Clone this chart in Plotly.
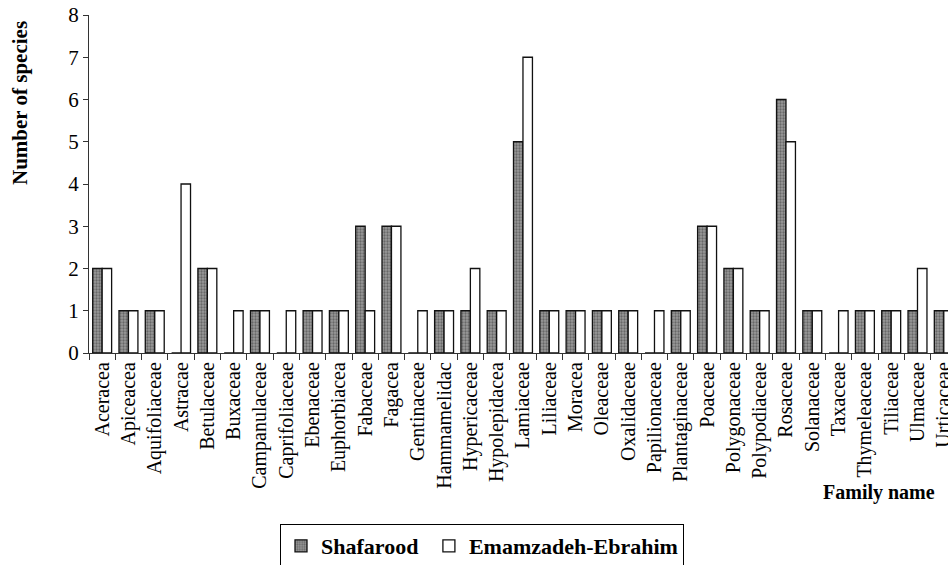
import plotly.graph_objects as go

families = ["Aceracea", "Apiceacea", "Aquifoliaceae", "Astracae", "Betulaceae", "Buxaceae",
            "Campanulaceae", "Caprifoliaceae", "Ebenaceae", "Euphorbiacea", "Fabaceae", "Fagacea",
            "Gentinaceae", "Hammamelidac", "Hypericaceae", "Hypolepidacea", "Lamiaceae", "Liliaceae",
            "Moracea", "Oleaceae", "Oxalidaceae", "Papilionaceae", "Plantaginaceae", "Poaceae",
            "Polygonaceae", "Polypodiaceae", "Rosaceae", "Solanaceae", "Taxaceae", "Thymeleaceae",
            "Tiliaceae", "Ulmaceae", "Urticaceae"]
shafarood = [2, 1, 1, 0, 2, 0, 1, 0, 1, 1, 3, 3, 0, 1, 1, 1, 5, 1, 1, 1, 1, 0, 1, 3, 2, 1, 6, 1, 0, 1, 1, 1, 1]
emamzadeh = [2, 1, 1, 4, 2, 1, 1, 1, 1, 1, 1, 3, 1, 1, 2, 1, 7, 1, 1, 1, 1, 1, 1, 3, 2, 1, 5, 1, 1, 1, 1, 2, 1]
y_ticks = [0, 1, 2, 3, 4, 5, 6, 7, 8]

FONT = "Liberation Serif"

fig = go.Figure()
fig.add_trace(go.Bar(
    x=families, y=shafarood, name="<b>Shafarood</b>\u00a0",
    marker=dict(color="#9a9a9a", line=dict(color="#111", width=1.3),
                pattern=dict(shape=".", fgcolor="#333", size=3, solidity=0.45)),
))
fig.add_trace(go.Bar(
    x=families, y=emamzadeh, name="<b>Emamzadeh-Ebrahim</b>",
    marker=dict(color="white", line=dict(color="#111", width=1.3)),
))

fig.update_layout(
    width=948, height=565,
    margin=dict(l=89, r=0, t=15, b=212, autoexpand=False),
    paper_bgcolor="white", plot_bgcolor="white",
    barmode="group", bargap=0.28, bargroupgap=0,
    font=dict(family=FONT, color="black"),
    showlegend=True,
    legend=dict(orientation="h", x=(280 - 89) / 859, xanchor="left", y=(353 - 524) / 338, yanchor="top",
                bordercolor="black", borderwidth=1, font=dict(size=22, family=FONT, color="black"),
                traceorder="normal", itemwidth=30),
    xaxis=dict(
        range=[-0.5, 32.16],
        tickangle=-90, tickson="boundaries", ticks="outside", ticklen=6,
        tickcolor="#333", showline=True, linecolor="#333", linewidth=1.3,
        tickfont=dict(size=20, family=FONT), showgrid=False,
    ),
    yaxis=dict(
        range=[0, 8], tickvals=y_ticks, ticks="outside", ticklen=5, tickcolor="#333",
        showline=True, linecolor="#333", linewidth=1.3, showgrid=False, zeroline=False,
        tickfont=dict(size=21, family=FONT),
    ),
)
fig.add_annotation(text="<b>Number of species</b>", xref="paper", yref="paper",
                   x=(20 - 89) / 859, y=(353 - 103) / 338, xanchor="center", yanchor="middle",
                   textangle=-90, showarrow=False, font=dict(size=21, family=FONT))
fig.add_annotation(text="<b>Family name</b>", xref="paper", yref="paper",
                   x=(937 - 89) / 859, y=(353 - 492) / 338,
                   xanchor="right", yanchor="middle", showarrow=False,
                   font=dict(size=20, family=FONT))

fig.write_html("out.html", config={"displayModeBar": False},
               post_script="document.body.style.margin='0';document.body.style.overflow='hidden';")
